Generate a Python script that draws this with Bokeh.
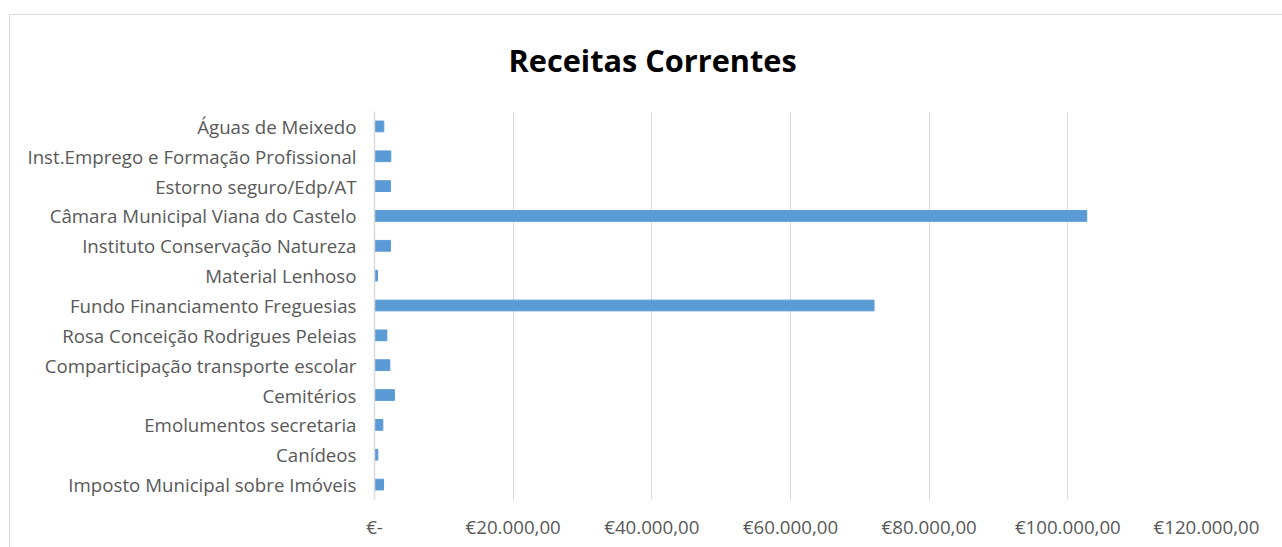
from bokeh.plotting import figure
from bokeh.models import FactorRange, Range1d, FixedTicker
from bokeh.embed import file_html
from bokeh.resources import INLINE

title = "Receitas Correntes"
categories = [
    "Imposto Municipal sobre Imóveis",
    "Canídeos",
    "Emolumentos secretaria",
    "Cemitérios",
    "Comparticipação transporte escolar",
    "Rosa Conceição Rodrigues Peleias",
    "Fundo Financiamento Freguesias",
    "Material Lenhoso",
    "Instituto Conservação Natureza",
    "Câmara Municipal Viana do Castelo",
    "Estorno seguro/Edp/AT",
    "Inst.Emprego e Formação Profissional",
    "Águas de Meixedo",
]
values = [1300, 480, 1200, 2880, 2210, 1780, 72050, 430, 2300, 102730, 2300, 2350, 1340]
tick_values = [0, 20000, 40000, 60000, 80000, 100000, 120000]
tick_labels = ["€-", "€20.000,00", "€40.000,00", "€60.000,00", "€80.000,00", "€100.000,00", "€120.000,00"]

FONT = "Open Sans"
LABEL_COLOR = "#595959"
GRID = "#d9d9d9"
BAR = "#5b9bd5"

p = figure(
    width=1282, height=542,
    y_range=FactorRange(factors=categories, range_padding=0),
    x_range=Range1d(0, 120000),
    output_backend="svg", toolbar_location=None,
    min_border_left=374, min_border_right=76,
    min_border_top=10, min_border_bottom=48,
)
p.margin = (5, 0, 0, 0)
p.border_fill_color = None
p.styles = {
    "background": (
        "linear-gradient(#d9d9d9, #d9d9d9) left 9px top 9px / 100% 1px no-repeat, "
        "linear-gradient(#d9d9d9, #d9d9d9) left 9px top 9px / 1px 100% no-repeat, "
        "#ffffff"
    )
}
p.outline_line_color = None

p.title.text = title
p.title.align = "left"
p.title.offset = 134
p.title.text_font = FONT
p.title.text_font_size = "30.7px"
p.title.text_font_style = "bold"
p.title.text_color = "#000000"
p.title.standoff = 62

p.hbar(y=categories, right=values, left=0, height=0.36, color=BAR)

p.xaxis.ticker = FixedTicker(ticks=tick_values)
p.xaxis.major_label_overrides = {v: l for v, l in zip(tick_values, tick_labels)}
p.xaxis.axis_line_color = None
p.xaxis.major_tick_line_color = None
p.xaxis.minor_tick_line_color = None
p.xaxis.major_label_standoff = 8
p.xaxis.major_label_text_font = FONT
p.xaxis.major_label_text_font_size = "18.7px"
p.xaxis.major_label_text_color = LABEL_COLOR

p.yaxis.axis_line_color = GRID
p.yaxis.axis_line_width = 1.5
p.yaxis.major_tick_line_color = None
p.yaxis.minor_tick_line_color = None
p.yaxis.major_label_standoff = 12
p.yaxis.major_label_text_font = FONT
p.yaxis.major_label_text_font_size = "18.7px"
p.yaxis.major_label_text_color = LABEL_COLOR

p.xgrid.grid_line_color = GRID
p.ygrid.grid_line_color = None

open("out.html", "w").write(file_html(p, INLINE))
